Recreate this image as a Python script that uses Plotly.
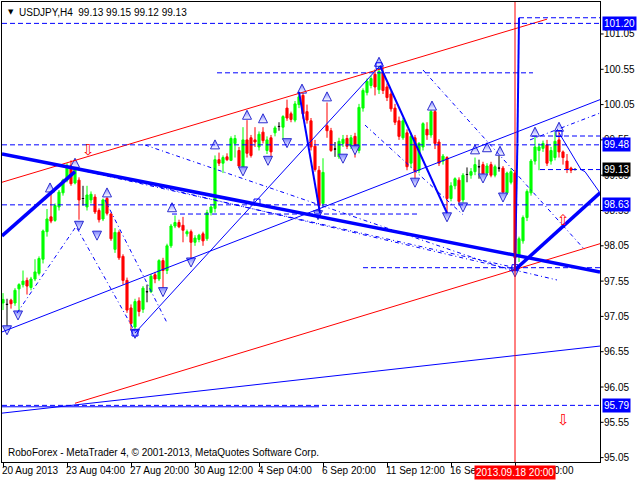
import plotly.graph_objects as go

# ---------------- data (bar index, price) ----------------
opens = [97.24, 97.22, 97.28, 97.24, 97.44, 97.50, 97.56, 97.46, 97.58, 97.66,
         97.86, 98.25, 98.46, 98.41, 98.60, 98.80, 98.98, 99.19, 98.94, 98.98,
         98.72, 98.60, 98.70, 98.74, 98.55, 98.43, 98.72, 98.50, 98.00, 98.24,
         97.90, 97.56, 97.17, 96.90, 97.27, 97.15, 97.40, 97.40, 97.64, 97.58,
         97.84, 97.70, 98.05, 98.33, 98.38, 98.34, 98.22, 98.25, 98.10, 98.14,
         98.22, 98.15, 98.52, 98.58, 99.27, 99.22, 99.31, 99.26, 99.50, 99.40,
         99.15, 99.55, 99.58, 99.55, 99.45, 99.66, 99.40, 99.58, 99.65, 99.74,
         99.73, 100.00, 99.92, 99.83, 100.05, 100.18, 99.95, 99.82, 99.46, 99.12,
         98.65, 99.75, 99.68, 99.42, 99.31, 99.50, 99.57, 99.46, 99.60, 99.40,
         100.00, 100.22, 100.32, 100.48, 100.26, 100.50, 100.30, 100.20, 100.00, 99.82,
         99.58, 99.65, 99.22, 99.58, 99.12, 99.45, 99.70, 99.62, 99.95, 99.52,
         99.25, 99.30, 98.72, 98.90, 98.98, 98.70, 99.06, 99.05, 99.10, 99.17,
         99.20, 99.08, 99.20, 99.05, 99.15, 99.15, 98.80, 98.95, 99.08, 97.90,
         98.12, 98.45, 98.80, 99.25, 99.40, 99.43, 99.48, 99.25, 99.30, 99.55,
         99.38, 99.25, 99.15, 99.13]
highs = [97.38, 97.30, 97.30, 97.45, 97.52, 97.70, 97.60, 97.61, 97.86, 97.90,
         98.28, 98.57, 98.80, 98.65, 98.84, 99.00, 99.22, 99.26, 99.28, 99.02,
         98.90, 98.90, 98.82, 98.78, 98.58, 98.72, 98.77, 98.52, 98.30, 98.27,
         97.93, 97.60, 97.22, 97.30, 97.32, 97.48, 97.50, 97.65, 97.68, 97.86,
         97.88, 98.08, 98.36, 98.48, 98.42, 98.46, 98.28, 98.28, 98.20, 98.22,
         98.25, 98.56, 98.62, 99.33, 99.37, 99.33, 99.36, 99.60, 99.62, 99.45,
         99.73, 99.83, 99.62, 99.73, 99.67, 99.73, 99.60, 99.62, 99.75, 99.80,
         99.90, 100.12, 99.95, 100.10, 100.22, 100.30, 100.05, 99.86, 99.55, 99.18,
         99.29, 100.08, 99.72, 99.52, 99.58, 99.62, 99.62, 99.62, 99.65, 100.06,
         100.28, 100.42, 100.46, 100.55, 100.62, 100.58, 100.35, 100.24, 100.06, 99.88,
         99.86, 99.70, 99.65, 99.62, 99.52, 99.80, 99.80, 100.00, 99.98, 99.56,
         99.35, 99.32, 98.95, 99.02, 99.02, 99.08, 99.16, 99.15, 99.30, 99.27,
         99.24, 99.22, 99.24, 99.20, 99.33, 99.18, 99.10, 99.15, 99.12, 98.18,
         98.48, 98.85, 99.28, 99.60, 99.50, 99.54, 99.55, 99.45, 99.66, 99.68,
         99.40, 99.35, 99.17, 99.15]
lows = [97.14, 96.86, 97.16, 97.20, 97.12, 97.46, 97.36, 97.42, 97.55, 97.63,
        97.80, 98.18, 98.37, 98.39, 98.55, 98.76, 98.95, 98.90, 98.92, 98.42,
        98.62, 98.55, 98.65, 98.50, 98.38, 98.40, 98.48, 98.12, 97.95, 97.85,
        97.50, 97.10, 96.85, 96.81, 97.05, 97.10, 97.25, 97.38, 97.52, 97.55,
        97.42, 97.65, 98.02, 98.30, 98.30, 98.10, 98.18, 97.85, 98.05, 98.10,
        98.05, 98.12, 98.48, 98.52, 99.18, 99.08, 99.25, 99.25, 99.30, 99.15,
        99.15, 99.30, 99.30, 99.45, 99.40, 99.50, 99.35, 99.30, 99.60, 99.68,
        99.55, 99.82, 99.80, 99.80, 100.00, 99.85, 99.78, 99.40, 99.10, 98.52,
        98.60, 99.58, 99.38, 99.31, 99.28, 99.45, 99.42, 99.42, 99.30, 99.36,
        99.95, 100.18, 100.28, 100.18, 100.20, 100.20, 100.10, 99.95, 99.76, 99.55,
        99.55, 99.12, 99.15, 98.98, 99.08, 99.40, 99.55, 99.58, 99.42, 99.18,
        99.20, 98.52, 98.68, 98.85, 98.65, 98.66, 98.95, 99.00, 99.05, 99.00,
        99.03, 99.04, 99.02, 99.02, 99.10, 98.78, 98.77, 98.92, 97.70, 97.82,
        98.08, 98.40, 98.76, 99.20, 99.12, 99.38, 99.18, 99.20, 99.26, 99.30,
        99.20, 99.08, 99.08, 99.12]
closes = [97.29, 97.22, 97.23, 97.42, 97.50, 97.55, 97.48, 97.58, 97.68, 97.87,
          98.26, 98.43, 98.40, 98.62, 98.81, 98.98, 99.19, 98.93, 99.17, 98.70,
          98.72, 98.77, 98.78, 98.53, 98.42, 98.70, 98.51, 98.15, 98.24, 97.88,
          97.56, 97.14, 96.95, 97.26, 97.12, 97.45, 97.40, 97.62, 97.58, 97.84,
          97.70, 98.05, 98.33, 98.38, 98.32, 98.27, 98.25, 98.10, 98.16, 98.20,
          98.12, 98.52, 98.60, 99.27, 99.22, 99.30, 99.27, 99.57, 99.57, 99.18,
          99.55, 99.36, 99.33, 99.52, 99.63, 99.54, 99.55, 99.38, 99.72, 99.74,
          99.88, 99.86, 99.84, 100.06, 100.16, 99.92, 99.83, 99.45, 99.13, 98.62,
          99.09, 99.68, 99.40, 99.42, 99.53, 99.56, 99.46, 99.58, 99.38, 100.01,
          100.25, 100.38, 100.42, 100.30, 100.52, 100.25, 100.15, 99.99, 99.80, 99.60,
          99.82, 99.17, 99.60, 99.10, 99.50, 99.78, 99.62, 99.95, 99.50, 99.22,
          99.32, 98.72, 98.90, 99.00, 98.68, 99.05, 99.06, 99.10, 99.20, 99.17,
          99.07, 99.18, 99.05, 99.17, 99.15, 98.81, 99.08, 99.10, 97.88, 98.15,
          98.45, 98.82, 99.25, 99.45, 99.45, 99.50, 99.22, 99.40, 99.53, 99.38,
          99.30, 99.13, 99.12, 99.13]

tick_bars = [0, 16, 32, 48, 64, 80, 96, 112, 128]
tick_labels = ["20 Aug 2013", "23 Aug 04:00", "27 Aug 20:00", "30 Aug 12:00",
               "4 Sep 04:00", "6 Sep 20:00", "11 Sep 12:00", "16 Sep 04:00",
               "18 Sep 20:00"]
price_ticks = [95.05, 95.55, 96.05, 96.55, 97.05, 97.55, 98.05, 98.55,
               99.05, 99.55, 100.05, 100.55, 101.05]

# highlighted price levels (full width)
level_full = [101.20, 99.48, 98.63, 95.79]
# partial horizontal levels: (bar from, bar to, price)
level_part = [(129, 149.25, 101.28), (53.5, 132.5, 100.50), (132.25, 149.25, 99.605),
              (134.25, 149.25, 99.13), (42.25, 103.5, 98.50), (90, 149.25, 97.74)]
# trend lines: (bar0, price0, bar1, price1)
thick_lines = [(-0.25, 99.35, 149.25, 97.68), (-0.25, 98.19, 18, 99.10),
               (128, 97.71, 149.25, 98.80)]
medium_lines = [(74, 100.23, 79.25, 98.515), (94.25, 100.60, 111, 98.515),
                (128, 97.74, 128.6, 99.50), (128.6, 99.50, 129, 101.28)]
thin_lines = [(-0.25, 96.83, 149.25, 100.12), (-0.25, 95.68, 149.25, 96.63),
              (33, 96.815, 94.25, 100.60), (139, 99.65, 144.5, 99.13),
              (144.5, 99.13, 145.5, 99.10), (145.5, 99.10, 149.25, 98.80),
              (-0.25, 95.77, 79, 95.77)]
red_lines = [(-0.25, 98.95, 136, 101.26), (18, 95.82, 149.25, 98.08)]
dash_lines = [(18, 99.14, 128, 97.74), (23, 99.095, 138.5, 97.566),
              (35.5, 99.478, 128, 97.679), (3.5, 97.098, 18, 98.302),
              (18.5, 98.30, 33, 96.83), (25.5, 98.70, 41, 96.96),
              (105, 100.54, 145.5, 97.99), (131.75, 99.55, 149.25, 99.93),
              (90.5, 99.76, 115, 98.49)]
frac_up = [(18, 99.29), (11.75, 98.94), (26, 98.87), (42.25, 98.66), (53, 99.55),
           (61, 99.97), (65, 99.92), (74.75, 100.34), (81, 100.23), (94, 100.72),
           (107.25, 100.10), (118, 99.48), (121, 99.51), (124.25, 99.46),
           (133, 99.73), (139, 99.80)]
frac_dn = [(1, 96.79), (3.75, 97.00), (19, 98.27), (23.5, 98.13), (33, 96.74),
           (40, 97.33), (47, 97.75), (60, 99.04), (66.25, 99.19), (71, 99.44),
           (78.75, 98.42), (85, 99.22), (88, 99.34), (103, 98.88), (111, 98.39),
           (115, 98.53), (120, 98.94), (125, 98.67), (128, 97.61)]
boxes = [(94, 100.60), (33, 96.815), (63.5, 98.67), (128, 97.74), (139, 99.64)]
red_arrows = [(21.25, 99.41, "⇩"), (140, 95.58, "⇩"), (140, 98.42, "⇧")]

FONT = "Liberation Sans, Arial, sans-serif"
BLUE = "#0000ff"

bars = list(range(len(opens)))
fig = go.Figure()

def subset(cond):
    idx = [i for i in bars if cond(opens[i], closes[i])]
    return dict(x=idx, open=[opens[i] for i in idx], high=[highs[i] for i in idx],
                low=[lows[i] for i in idx], close=[closes[i] for i in idx])

for cond, col in [(lambda o, c: c > o, "#00ff00"), (lambda o, c: c < o, "#ff0000"),
                  (lambda o, c: c == o, "#000000")]:
    fig.add_trace(go.Candlestick(
        **subset(cond),
        increasing=dict(line=dict(color=col, width=1), fillcolor=col),
        decreasing=dict(line=dict(color=col, width=1), fillcolor=col),
        whiskerwidth=0, hoverinfo="skip", showlegend=False))

for pts, sym in [(frac_up, "arrow-up"), (frac_dn, "arrow-down")]:
    fig.add_trace(go.Scatter(
        x=[p[0] for p in pts], y=[p[1] for p in pts], mode="markers",
        marker=dict(symbol=sym, size=9, color="#7f86ff",
                    gradient=dict(type="vertical", color="#ffffff"),
                    line=dict(color="#2a2ad0", width=1)),
        hoverinfo="skip", showlegend=False))
fig.add_trace(go.Scatter(
    x=[b[0] for b in boxes], y=[b[1] for b in boxes], mode="markers",
    marker=dict(symbol="square-open", size=6, color=BLUE, line=dict(width=1)),
    hoverinfo="skip", showlegend=False))

shapes = []
def seg(l, color, width, dash="solid"):
    shapes.append(dict(type="line", xref="x", yref="y", x0=l[0], y0=l[1],
                       x1=l[2], y1=l[3], line=dict(color=color, width=width, dash=dash)))

for l in red_lines:
    seg(l, "#ff0000", 1)
for l in dash_lines:
    seg(l, BLUE, 1, "4px,3px,1px,3px")
for l in thin_lines:
    seg(l, BLUE, 1)
for l in medium_lines:
    seg(l, BLUE, 2)
for l in thick_lines:
    seg(l, BLUE, 3.5)
for a, b, p in level_part:
    seg((a, p, b, p), BLUE, 1, "5px,3px")
for p in level_full:
    shapes.append(dict(type="line", xref="paper", yref="y", x0=0, x1=1, y0=p, y1=p,
                       line=dict(color=BLUE, width=1, dash="5px,3px")))
shapes.append(dict(type="line", xref="x", yref="paper", x0=128, x1=128, y0=0, y1=1,
                   line=dict(color="#ff0000", width=1)))
# y-axis tick marks
for v in price_ticks:
    shapes.append(dict(type="line", xref="paper", yref="y", x0=1, x1=1.006, y0=v, y1=v,
                       line=dict(color="black", width=1)))

ann = []
for v in price_ticks:
    ann.append(dict(x=1, xref="paper", y=v, yref="y", xanchor="left", yanchor="middle",
                    xshift=3, text=f"{v:.2f}", showarrow=False, borderpad=0,
                    font=dict(family=FONT, size=10, color="black")))
for b, t in zip(tick_bars, tick_labels):
    ann.append(dict(x=b, xref="x", y=0, yref="paper", yanchor="top", xanchor="left",
                    xshift=-2, yshift=-2, text=t, showarrow=False, borderpad=0,
                    font=dict(family=FONT, size=10, color="black")))
ann.append(dict(x=128, xref="x", y=0, yref="paper", yanchor="top", xanchor="center",
                yshift=-3, text="2013.09.18 20:00", showarrow=False, bgcolor="#ff0000",
                borderpad=1, font=dict(family=FONT, size=10, color="white")))
for p in level_full + [99.13]:
    ann.append(dict(x=1, xref="paper", y=p, yref="y", xanchor="left", yanchor="middle",
                    xshift=2, text=f"{p:.2f}", showarrow=False,
                    bgcolor="#000000" if p == 99.13 else BLUE, borderpad=1,
                    font=dict(family=FONT, size=10, color="white")))
for x, y, t in red_arrows:
    ann.append(dict(x=x, y=y, xref="x", yref="y", text=t, showarrow=False,
                    font=dict(family="DejaVu Sans", size=15, color="#ff0000")))
ann.append(dict(x=0, xref="paper", y=1, yref="paper", xanchor="left", yanchor="top",
                xshift=4, yshift=-4, text="▼", showarrow=False,
                font=dict(family="DejaVu Sans", size=7, color="black")))
ann.append(dict(x=0, xref="paper", y=1, yref="paper", xanchor="left", yanchor="top",
                xshift=15, yshift=-3, text="USDJPY,H4  99.13 99.15 99.12 99.13",
                showarrow=False, font=dict(family=FONT, size=10, color="black")))
ann.append(dict(x=0, xref="paper", y=0, yref="paper", xanchor="left", yanchor="bottom",
                xshift=4, yshift=2,
                text="RoboForex - MetaTrader 4, © 2001-2013, MetaQuotes Software Corp.",
                showarrow=False, font=dict(family=FONT, size=10, color="black")))

fig.update_layout(
    width=640, height=480, margin=dict(l=2, r=40, t=2, b=18, autoexpand=False),
    paper_bgcolor="white", plot_bgcolor="white", showlegend=False,
    shapes=shapes, annotations=ann, boxgap=0.25,
    xaxis=dict(range=[-0.25, 149.25], rangeslider=dict(visible=False),
               tickvals=tick_bars, showticklabels=False, ticks="outside", ticklen=4,
               tickcolor="black", showgrid=False, zeroline=False, showline=True,
               mirror=True, linecolor="black", linewidth=1),
    yaxis=dict(range=[94.988, 101.503], side="right", showticklabels=False,
               ticks="", showgrid=False, zeroline=False, showline=True, mirror=True,
               linecolor="black", linewidth=1),
)

fig.write_html("out.html", config={"displayModeBar": False},
               post_script="document.body.style.margin='0';document.body.style.padding='0';")
